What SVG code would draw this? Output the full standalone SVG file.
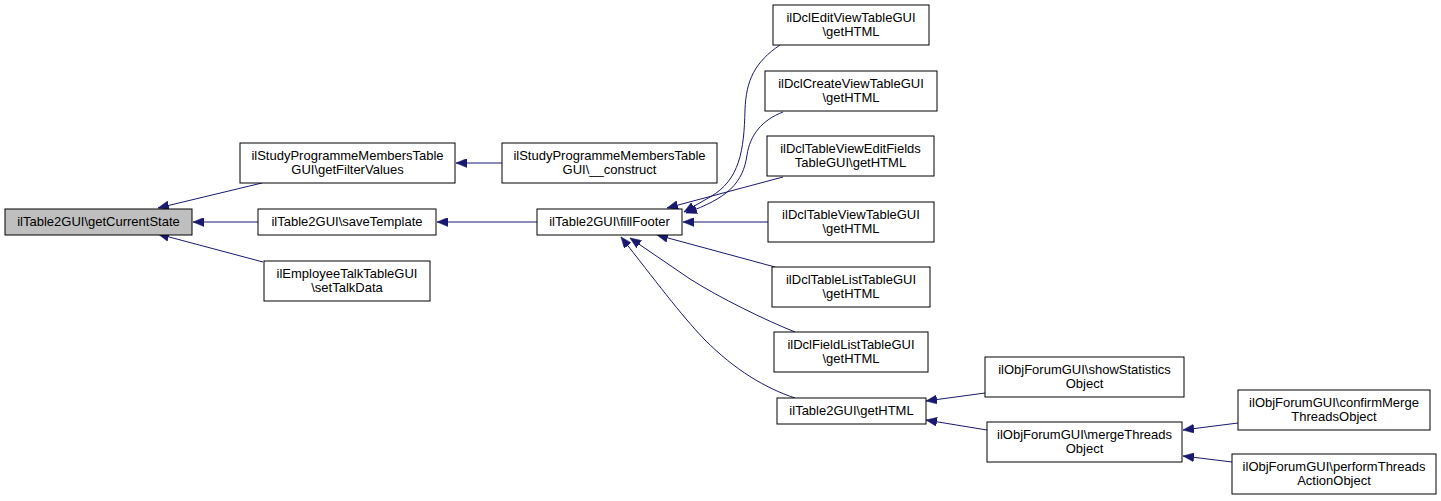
<svg xmlns="http://www.w3.org/2000/svg" width="1441" height="501" viewBox="0 0 1441 501">
<style>
.node rect{fill:#ffffff;stroke:#000000;stroke-width:1}
.node.cur rect{fill:#bfbfbf}
.node text{font-family:"Liberation Sans",Arial,Helvetica,sans-serif;font-size:13px;fill:#000000;text-anchor:middle}
.edges path{fill:none;stroke:#191970;stroke-width:1;marker-end:url(#arr)}
</style>
<defs>
<marker id="arr" markerUnits="userSpaceOnUse" markerWidth="12" markerHeight="9" refX="11" refY="4.5" orient="auto">
<path d="M0,0 L11,4.5 L0,9 z" fill="#191970" stroke="#191970" stroke-width="0.5"/>
</marker>
</defs>
<rect x="0" y="0" width="1441" height="501" fill="#ffffff"/>
<g id="edges" class="edges">
<path d="M262,183 L158,208"/>
<path d="M258,222 L193,222"/>
<path d="M263,262 L158,234"/>
<path d="M502,163 L456,163"/>
<path d="M537,222 L437,222"/>
<path d="M780,45 C755,62 746,80 745,110 C744,150 740,180 710,197 L684,212"/>
<path d="M783,112 C762,120 750,135 747,155 C743,183 728,198 686,213"/>
<path d="M783,177 L667,208"/>
<path d="M768,222 L683,222"/>
<path d="M775,267 L657,235"/>
<path d="M795,332 C765,320 720,298 690,279 L630,238"/>
<path d="M795,398 C765,388 735,370 705,340 C680,314 655,280 621,237"/>
<path d="M985,393 L926,401"/>
<path d="M987,430 L926,420"/>
<path d="M1238,423 L1183,430"/>
<path d="M1232,462 L1183,456"/>
</g>
<g id="n1" class="node cur"><rect x="5" y="209" width="187" height="26"/><text x="98.5" y="226">ilTable2GUI\getCurrentState</text></g>
<g id="n2" class="node"><rect x="240" y="143" width="215" height="40"/><text x="347.5" y="160">ilStudyProgrammeMembersTable</text><text x="347.5" y="174">GUI\getFilterValues</text></g>
<g id="n3" class="node"><rect x="258" y="209" width="178" height="26"/><text x="347" y="226">ilTable2GUI\saveTemplate</text></g>
<g id="n4" class="node"><rect x="264" y="261" width="166" height="40"/><text x="347" y="278">ilEmployeeTalkTableGUI</text><text x="347" y="292">\setTalkData</text></g>
<g id="n5" class="node"><rect x="502" y="143" width="215" height="40"/><text x="609.5" y="160">ilStudyProgrammeMembersTable</text><text x="609.5" y="174">GUI\__construct</text></g>
<g id="n6" class="node"><rect x="537" y="209" width="145" height="26"/><text x="609.5" y="226">ilTable2GUI\fillFooter</text></g>
<g id="n7" class="node"><rect x="773" y="5" width="156" height="40"/><text x="851" y="22">ilDclEditViewTableGUI</text><text x="851" y="36">\getHTML</text></g>
<g id="n8" class="node"><rect x="765" y="71" width="172" height="40"/><text x="851" y="88">ilDclCreateViewTableGUI</text><text x="851" y="102">\getHTML</text></g>
<g id="n9" class="node"><rect x="767" y="136" width="167" height="40"/><text x="850.5" y="153">ilDclTableViewEditFields</text><text x="850.5" y="167">TableGUI\getHTML</text></g>
<g id="n10" class="node"><rect x="768" y="202" width="166" height="40"/><text x="851" y="219">ilDclTableViewTableGUI</text><text x="851" y="233">\getHTML</text></g>
<g id="n11" class="node"><rect x="772" y="267" width="158" height="40"/><text x="851" y="284">ilDclTableListTableGUI</text><text x="851" y="298">\getHTML</text></g>
<g id="n12" class="node"><rect x="774" y="332" width="154" height="40"/><text x="851" y="349">ilDclFieldListTableGUI</text><text x="851" y="363">\getHTML</text></g>
<g id="n13" class="node"><rect x="777" y="398" width="149" height="26"/><text x="851.5" y="415">ilTable2GUI\getHTML</text></g>
<g id="n14" class="node"><rect x="985" y="357" width="199" height="40"/><text x="1084.5" y="374">ilObjForumGUI\showStatistics</text><text x="1084.5" y="388">Object</text></g>
<g id="n15" class="node"><rect x="987" y="422" width="195" height="40"/><text x="1084.5" y="439">ilObjForumGUI\mergeThreads</text><text x="1084.5" y="453">Object</text></g>
<g id="n16" class="node"><rect x="1238" y="390" width="192" height="40"/><text x="1334" y="407">ilObjForumGUI\confirmMerge</text><text x="1334" y="421">ThreadsObject</text></g>
<g id="n17" class="node"><rect x="1232" y="454" width="204" height="40"/><text x="1334" y="471">ilObjForumGUI\performThreads</text><text x="1334" y="485">ActionObject</text></g>
</svg>
